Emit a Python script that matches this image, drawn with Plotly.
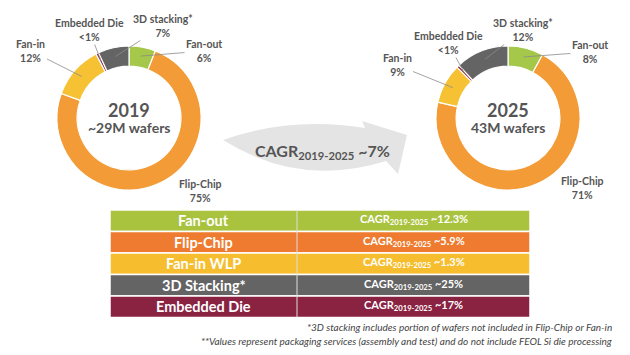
import math
import plotly.graph_objects as go

W, H = 630, 355

# ---- data ----
segments = ["Fan-out", "Flip-Chip", "Fan-in", "Embedded Die", "3D stacking*"]
seg_colors = ["#A6C84A", "#F39B36", "#F6C233", "#8B1E3F", "#646464"]
vals_2019 = [6, 75, 12, 0.6, 7]
pct_2019 = ["6%", "75%", "12%", "<1%", "7%"]
vals_2025 = [8, 71, 9, 0.6, 12]
pct_2025 = ["8%", "71%", "9%", "<1%", "12%"]
center_2019 = ["2019", "~29M wafers"]
center_2025 = ["2025", "43M wafers"]
total_cagr = "~7%"

table_rows = ["Fan-out", "Flip-Chip", "Fan-in WLP", "3D Stacking*", "Embedded Die"]
table_cagr = ["~12.3%", "~5.9%", "~1.3%", "~25%", "~17%"]
table_colors = ["#A9C33F", "#EE7B30", "#F6BE2F", "#646464", "#8A2242"]

footnotes = [
    "*3D stacking includes portion of wafers not included in Flip-Chip or Fan-in",
    "**Values represent packaging services (assembly and test) and do not include FEOL Si die processing",
]

FONT = "Lato"
TXT = "#555555"


def px(x):
    return x / W


def py(y):
    return 1 - y / H


def note(x, y, text, size, color, **kw):
    d = dict(x=px(x), y=py(y), xref="paper", yref="paper", text=text, showarrow=False,
             xanchor="center", yanchor="middle",
             font=dict(family=FONT, size=size, color=color))
    d.update(kw)
    return d


fig = go.Figure()
R = 72
donuts = [
    (129, 118, vals_2019, pct_2019, center_2019,
     {"Fan-out": (204, 51), "Flip-Chip": (200, 191), "Fan-in": (31, 51),
      "Embedded Die": (89, 30), "3D stacking*": (163, 26)}),
    (508, 118, vals_2025, pct_2025, center_2025,
     {"Fan-out": (590, 52), "Flip-Chip": (582, 188), "Fan-in": (397, 65),
      "Embedded Die": (448, 43), "3D stacking*": (523, 30)}),
]

annotations = []
for cx, cy, vals, pcts, ctext, lpos in donuts:
    fig.add_trace(go.Pie(
        labels=segments, values=vals, sort=False, direction="clockwise",
        hole=0.72, marker=dict(colors=seg_colors, line=dict(color="white", width=1.2)),
        textinfo="none", hoverinfo="label+percent", showlegend=False,
        domain=dict(x=[px(cx - R), px(cx + R)], y=[py(cy + R), py(cy - R)]),
    ))
    total = sum(vals)
    cum = 0
    for name, v, p in zip(segments, vals, pcts):
        mid = (cum + v / 2) / total
        cum += v
        th = 2 * math.pi * mid
        rr = 63
        x0 = cx + rr * math.sin(th)
        y0 = cy - rr * math.cos(th)
        lx, ly = lpos[name]
        txt = f"<b>{name}</b><br><b>{p}</b>"
        if name == "Flip-Chip":
            annotations.append(note(lx, ly, txt, 10.5, TXT))
        else:
            annotations.append(dict(x=px(x0), y=py(y0), xref="paper", yref="paper",
                                    ax=lx - x0, ay=ly - y0, text=txt, showarrow=True,
                                    arrowhead=0, arrowwidth=0.8, arrowcolor="#8a8a8a",
                                    standoff=0, startstandoff=0,
                                    font=dict(family=FONT, size=10.5, color=TXT)))
    annotations.append(note(cx, cy - 8, f"<b>{ctext[0]}</b>", 18, TXT))
    annotations.append(note(cx, cy + 10, f"<b>{ctext[1]}</b>", 14, TXT))

shapes = []
# swoosh arrow
pts = [(223, 140), (290, 116), (365, 128), (362, 121), (407, 135), (398, 174), (386, 161), (300, 188)]


def P(p):
    return f"{px(p[0]):.5f},{py(p[1]):.5f}"


path = (f"M {P(pts[0])} Q {P(pts[1])} {P(pts[2])} L {P(pts[3])} L {P(pts[4])} "
        f"L {P(pts[5])} L {P(pts[6])} Q {P(pts[7])} {P(pts[0])} Z")
shapes.append(dict(type="path", xref="paper", yref="paper", path=path,
                   fillcolor="#E4E4E4", line=dict(width=0), layer="below"))
annotations.append(note(322, 151, f"<b>CAGR<sub>2019-2025</sub> {total_cagr}</b>", 16, TXT))

# table
tx0, tx1, tdiv = 110, 530, 297
ty0, rh = 210, 21.5
for i, (name, cg, col) in enumerate(zip(table_rows, table_cagr, table_colors)):
    y0 = ty0 + i * rh
    y1 = y0 + rh
    shapes.append(dict(type="rect", xref="paper", yref="paper",
                       x0=px(tx0), x1=px(tx1), y0=py(y1), y1=py(y0),
                       fillcolor=col, line=dict(color="white", width=1.5)))
    annotations.append(note((tx0 + tdiv) / 2, (y0 + y1) / 2, f"<b>{name}</b>", 14.5, "white"))
    annotations.append(note((tdiv + tx1) / 2, (y0 + y1) / 2 - 1,
                            f"<b>CAGR<sub>2019-2025</sub> {cg}</b>", 11, "white"))
shapes.append(dict(type="line", xref="paper", yref="paper",
                   x0=px(tdiv), x1=px(tdiv), y0=py(ty0 + 5 * rh), y1=py(ty0),
                   line=dict(color="#dddddd", width=1)))

for j, fn in enumerate(footnotes):
    annotations.append(note(614, 327 + j * 14, f"<i>{fn}</i>", 10, "#444444", xanchor="right"))

fig.update_layout(
    width=W, height=H, margin=dict(l=0, r=0, t=0, b=0),
    paper_bgcolor="white", plot_bgcolor="white",
    annotations=annotations, shapes=shapes,
)
fig.write_html("out.html")
